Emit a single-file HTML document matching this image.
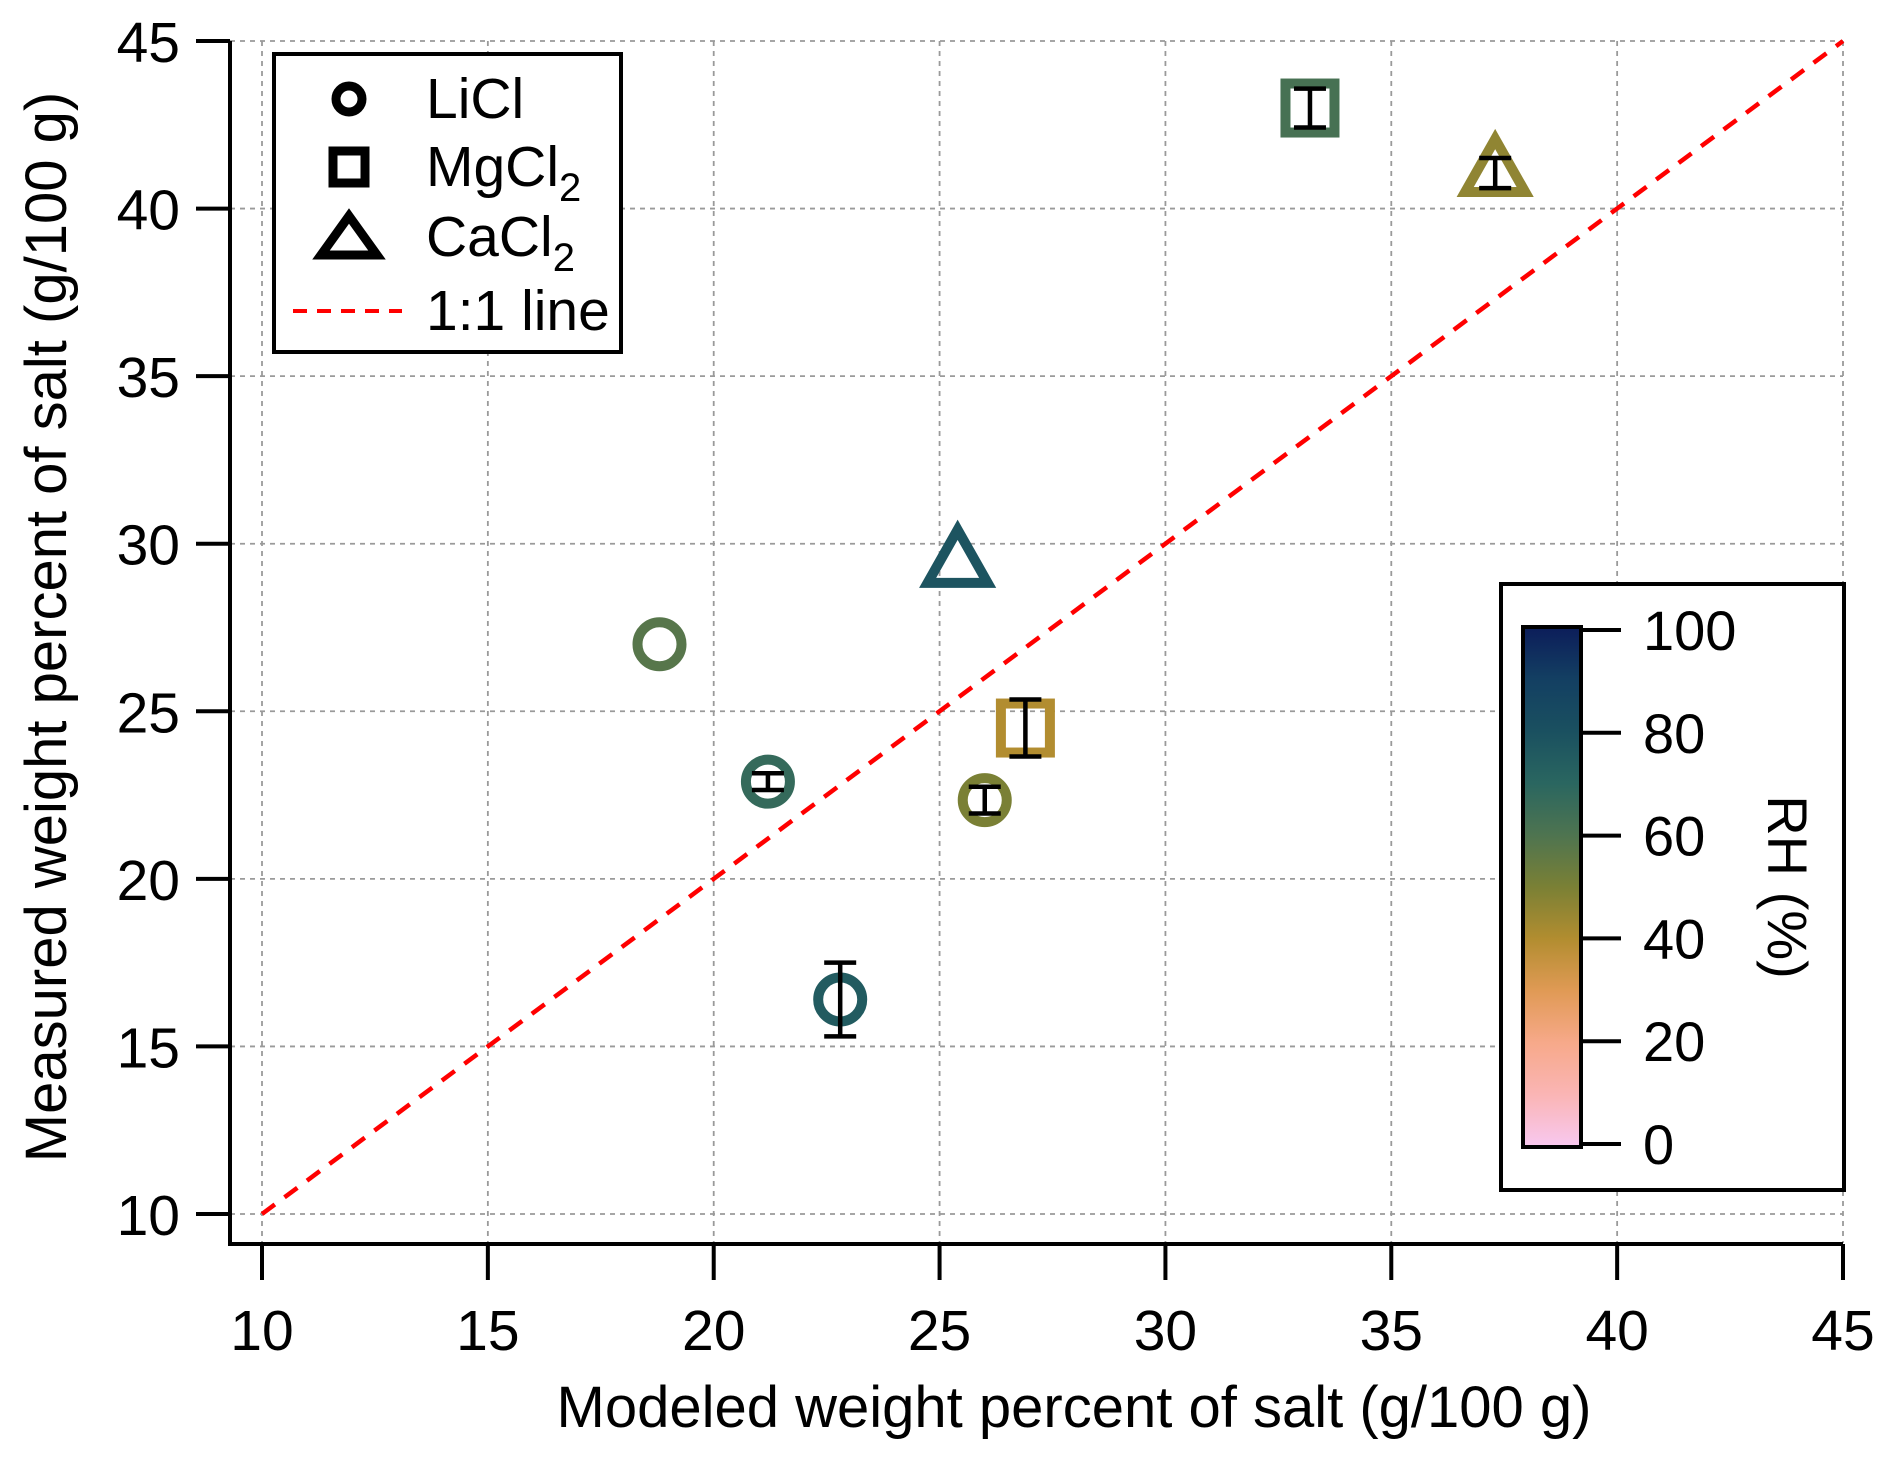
<!DOCTYPE html>
<html><head><meta charset="utf-8">
<style>
html,body{margin:0;padding:0;background:#fff;}
svg{display:block;font-family:"Liberation Sans",Arial,sans-serif;}
</style></head>
<body>
<svg id="chart" width="1892" height="1459" viewBox="0 0 1892 1459" xmlns="http://www.w3.org/2000/svg">
<g id="grid"></g>
<g id="oneone"></g>
<g id="axes"></g>
<g id="points"></g>
<text x="1074" y="1427" font-size="58" text-anchor="middle">Modeled weight percent of salt (g/100 g)</text>
<text transform="translate(66,627) rotate(-90)" font-size="58" text-anchor="middle">Measured weight percent of salt (g/100 g)</text>
<g>
<rect x="274" y="54" width="347" height="298" fill="#fff" stroke="#000" stroke-width="4"/>
<g>
<circle cx="349" cy="99" r="13" fill="none" stroke="#000" stroke-width="9"/>
<text x="426" y="118" font-size="57">LiCl</text></g>
<g>
<rect x="333" y="151" width="32" height="32" fill="none" stroke="#000" stroke-width="9"/>
<text x="426" y="186" font-size="57">MgCl<tspan font-size="40" dy="15">2</tspan></text></g>
<g>
<polygon points="349,216 377,255 321,255" fill="none" stroke="#000" stroke-width="9" stroke-linejoin="miter"/>
<text x="426" y="256" font-size="57">CaCl<tspan font-size="40" dy="15">2</tspan></text></g>
<g>
<line x1="293" y1="311" x2="402" y2="311" stroke="#f00" stroke-width="4" stroke-dasharray="14,10"/>
<text x="426" y="330" font-size="57">1:1 line</text></g>
</g>
<g>
<defs><linearGradient id="cmap" x1="0" y1="1" x2="0" y2="0"></linearGradient></defs>
<rect x="1501" y="584" width="343" height="606" fill="#fff" stroke="#000" stroke-width="4"/>
<rect x="1523" y="627" width="58" height="520" fill="url(#cmap)" stroke="#000" stroke-width="4"/>
<g id="cbticks"></g>
<text transform="translate(1768,887) rotate(90)" font-size="56" text-anchor="middle">RH (%)</text>
</g>
</svg>
<script>
const xTicks = [10,15,20,25,30,35,40,45];
const yTicks = [10,15,20,25,30,35,40,45];
const cbTicks = [0,20,40,60,80,100];
const salts = ['LiCl','LiCl','LiCl','LiCl','MgCl2','MgCl2','CaCl2','CaCl2'];
const modeled = [18.8,21.2,22.8,26.0,26.9,33.2,25.4,37.3];
const measured = [27.0,22.9,16.4,22.35,24.5,43.0,29.4,41.06];
const errY = [0,0.25,1.1,0.4,0.85,0.58,0,0.45];
const rh = [58,67,75,50,40,62,78,46];
const cmapStops = [0,10,20,30,40,50,60,70,80,90,100];
const cmapColors = ['#f8c8f0','#fab5b5','#f7a98a','#e09a55','#b28d30','#7a8035','#4e7450','#2a6660','#1a5060','#133f62','#0c1d5a'];

const NS='http://www.w3.org/2000/svg';
const X0=262,X1=1843,Y0=1214,Y1=41;
const xs=v=>X0+(v-10)*(X1-X0)/35;
const ys=v=>Y0-(v-10)*(Y0-Y1)/35;
const cbY=v=>1144-(v/100)*(1144-630);
function mk(tag,attrs,parent){const e=document.createElementNS(NS,tag);for(const k in attrs)e.setAttribute(k,attrs[k]);parent.appendChild(e);return e;}
function hex2rgb(h){return [1,3,5].map(i=>parseInt(h.substr(i,2),16));}
function cmap(v){for(let i=0;i<cmapStops.length-1;i++){if(v<=cmapStops[i+1]){const t=(v-cmapStops[i])/(cmapStops[i+1]-cmapStops[i]);const a=hex2rgb(cmapColors[i]),b=hex2rgb(cmapColors[i+1]);return 'rgb('+a.map((c,j)=>Math.round(c+(b[j]-c)*t)).join(',')+')';}}return cmapColors[cmapColors.length-1];}

const grid=document.getElementById('grid');
xTicks.forEach(v=>{const l=mk('line',{x1:xs(v),x2:xs(v),y1:Y1,y2:1243,stroke:'#9a9a9a','stroke-width':1.8,'stroke-dasharray':'5,5'},grid);

});
yTicks.forEach(v=>{const l=mk('line',{x1:230,x2:X1,y1:ys(v),y2:ys(v),stroke:'#9a9a9a','stroke-width':1.8,'stroke-dasharray':'5,5'},grid);

});

const oo=document.getElementById('oneone');
const ln=mk('line',{x1:xs(10),y1:ys(10),x2:xs(45),y2:ys(45),stroke:'#ff0000','stroke-width':4.5,'stroke-dasharray':'16,12'},oo);



const ax=document.getElementById('axes');
const xa=mk('path',{d:`M230,${Y1} L230,1244 L${X1},1244`,fill:'none',stroke:'#000','stroke-width':4},ax);


xTicks.forEach(v=>{mk('line',{x1:xs(v),x2:xs(v),y1:1244,y2:1280,stroke:'#000','stroke-width':4},ax);
const t=mk('text',{x:xs(v),y:1350,'font-size':57,'text-anchor':'middle'},ax);t.textContent=v;

});
yTicks.forEach(v=>{mk('line',{x1:196,x2:230,y1:ys(v),y2:ys(v),stroke:'#000','stroke-width':4},ax);
const t=mk('text',{x:180,y:ys(v)+21,'font-size':57,'text-anchor':'end'},ax);t.textContent=v;

});

const grad=document.getElementById('cmap');
cmapStops.forEach((s,i)=>mk('stop',{offset:s+'%','stop-color':cmapColors[i]},grad));
const cbt=document.getElementById('cbticks');
cbTicks.forEach(v=>{mk('line',{x1:1581,x2:1621,y1:cbY(v),y2:cbY(v),stroke:'#000','stroke-width':4},cbt);
const t=mk('text',{x:1643,y:cbY(v)+20,'font-size':56},cbt);t.textContent=v;

});

const pts=document.getElementById('points');
salts.forEach((s,i)=>{
  const x=xs(modeled[i]),y=ys(measured[i]),c=cmap(rh[i]);
  const g=mk('g',{},pts);
  
  
  if(s==='LiCl') mk('circle',{cx:x,cy:y,r:22,fill:'none',stroke:c,'stroke-width':10},g);
  else if(s==='MgCl2') mk('rect',{x:x-24.5,y:y-24.5,width:49,height:49,fill:'none',stroke:c,'stroke-width':10},g);
  else mk('polygon',{points:`${x},${y-34} ${x+30},${y+19} ${x-30},${y+19}`,fill:'none',stroke:c,'stroke-width':10,'stroke-linejoin':'miter'},g);
  if(errY[i]>0){
    const ya=ys(measured[i]+errY[i]),yb=ys(measured[i]-errY[i]);
    mk('line',{x1:x,x2:x,y1:ya,y2:yb,stroke:'#000','stroke-width':4.5},g);
    mk('line',{x1:x-16,x2:x+16,y1:ya,y2:ya,stroke:'#000','stroke-width':4.5},g);
    mk('line',{x1:x-16,x2:x+16,y1:yb,y2:yb,stroke:'#000','stroke-width':4.5},g);
  }
});
</script>
</body></html>
